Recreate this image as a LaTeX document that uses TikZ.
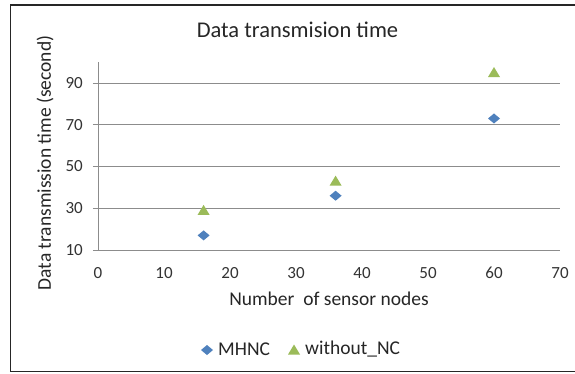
\documentclass[tikz,border=0pt]{standalone}
\usepackage{fontspec}
\setmainfont{Carlito}
\definecolor{mhncblue}{HTML}{4F81BD}
\definecolor{ncgreen}{HTML}{9BBB59}
\definecolor{gridgray}{HTML}{8C8C8C}
\tikzset{
  gridline/.style={draw=gridgray, line width=1pt},
  ticklabel/.style={inner sep=0pt, font=\fontsize{17}{20}\selectfont, text=black!80},
  labeltext/.style={inner sep=0pt, font=\fontsize{19.5}{23}\selectfont, text=black!85},
}
\begin{document}
\begin{tikzpicture}[x=1pt, y=1pt]
    \useasboundingbox (0,0) rectangle (575,373);
    \fill[white] (0,0) rectangle (575,373);
    % Cadre
    \draw[line width=1.5pt, black!85] (575,368) -- (10.5,368) -- (10.5,1.5) -- (575,1.5);

    % Titre
    \node[inner sep=0pt, font=\fontsize{22.5}{27}\selectfont, text=black!85] (title) at (297.5,343) {Data transmision time};

    % Zone du graphique
    \begin{scope}[shift={(98,102.125)}, x=6.6pt, y=2.0875pt]
        % Grille et axes
        \foreach \v in {30,50,70,90}
            \draw[gridline] (0,\v) -- (70,\v);
        \draw[gridline] (0,10) -- (70,10);
        \draw[gridline] (0,10) -- (0,100);
        \foreach \v in {10,30,...,90} {
            \draw[gridline] (-0.76,\v) -- (0,\v);
            \node[ticklabel, anchor=east] (ytick-\v) at (-2.27,\v) {\v};
        }
        \foreach \x in {0,10,...,70}
            \node[ticklabel] (xtick-\x) at (\x,-1) {\x};

        % MHNC
        \foreach \x/\y in {16/17, 36/36, 60/73}
            \fill[mhncblue] (\x,\y) +(0,5pt) -- +(6pt,0) -- +(0,-5pt) -- +(-6pt,0) -- cycle;
        % without_NC
        \foreach \x/\y in {16/29, 36/43, 60/95}
            \fill[ncgreen] (\x,\y) +(-6pt,-4.5pt) -- +(6pt,-4.5pt) -- +(0,5.5pt) -- cycle;
    \end{scope}

    % Titres des axes
    \node[labeltext, rotate=90] (ylabel) at (45,210) {Data transmission time (second)};
    \node[labeltext] (xlabel) at (329,74) {Number\ \ of sensor nodes};

    % Legende
    \fill[mhncblue] (207,23) +(0,5pt) -- +(6pt,0) -- +(0,-5pt) -- +(-6pt,0) -- cycle;
    \node[labeltext, anchor=west] (leg-mhnc) at (218,23.5) {MHNC};
    \fill[ncgreen] (294,23) +(-6pt,-4.5pt) -- +(6pt,-4.5pt) -- +(0,5.5pt) -- cycle;
    \node[labeltext, anchor=west] (leg-nc) at (305,23.5) {without\textunderscore NC};
\end{tikzpicture}
\end{document}
